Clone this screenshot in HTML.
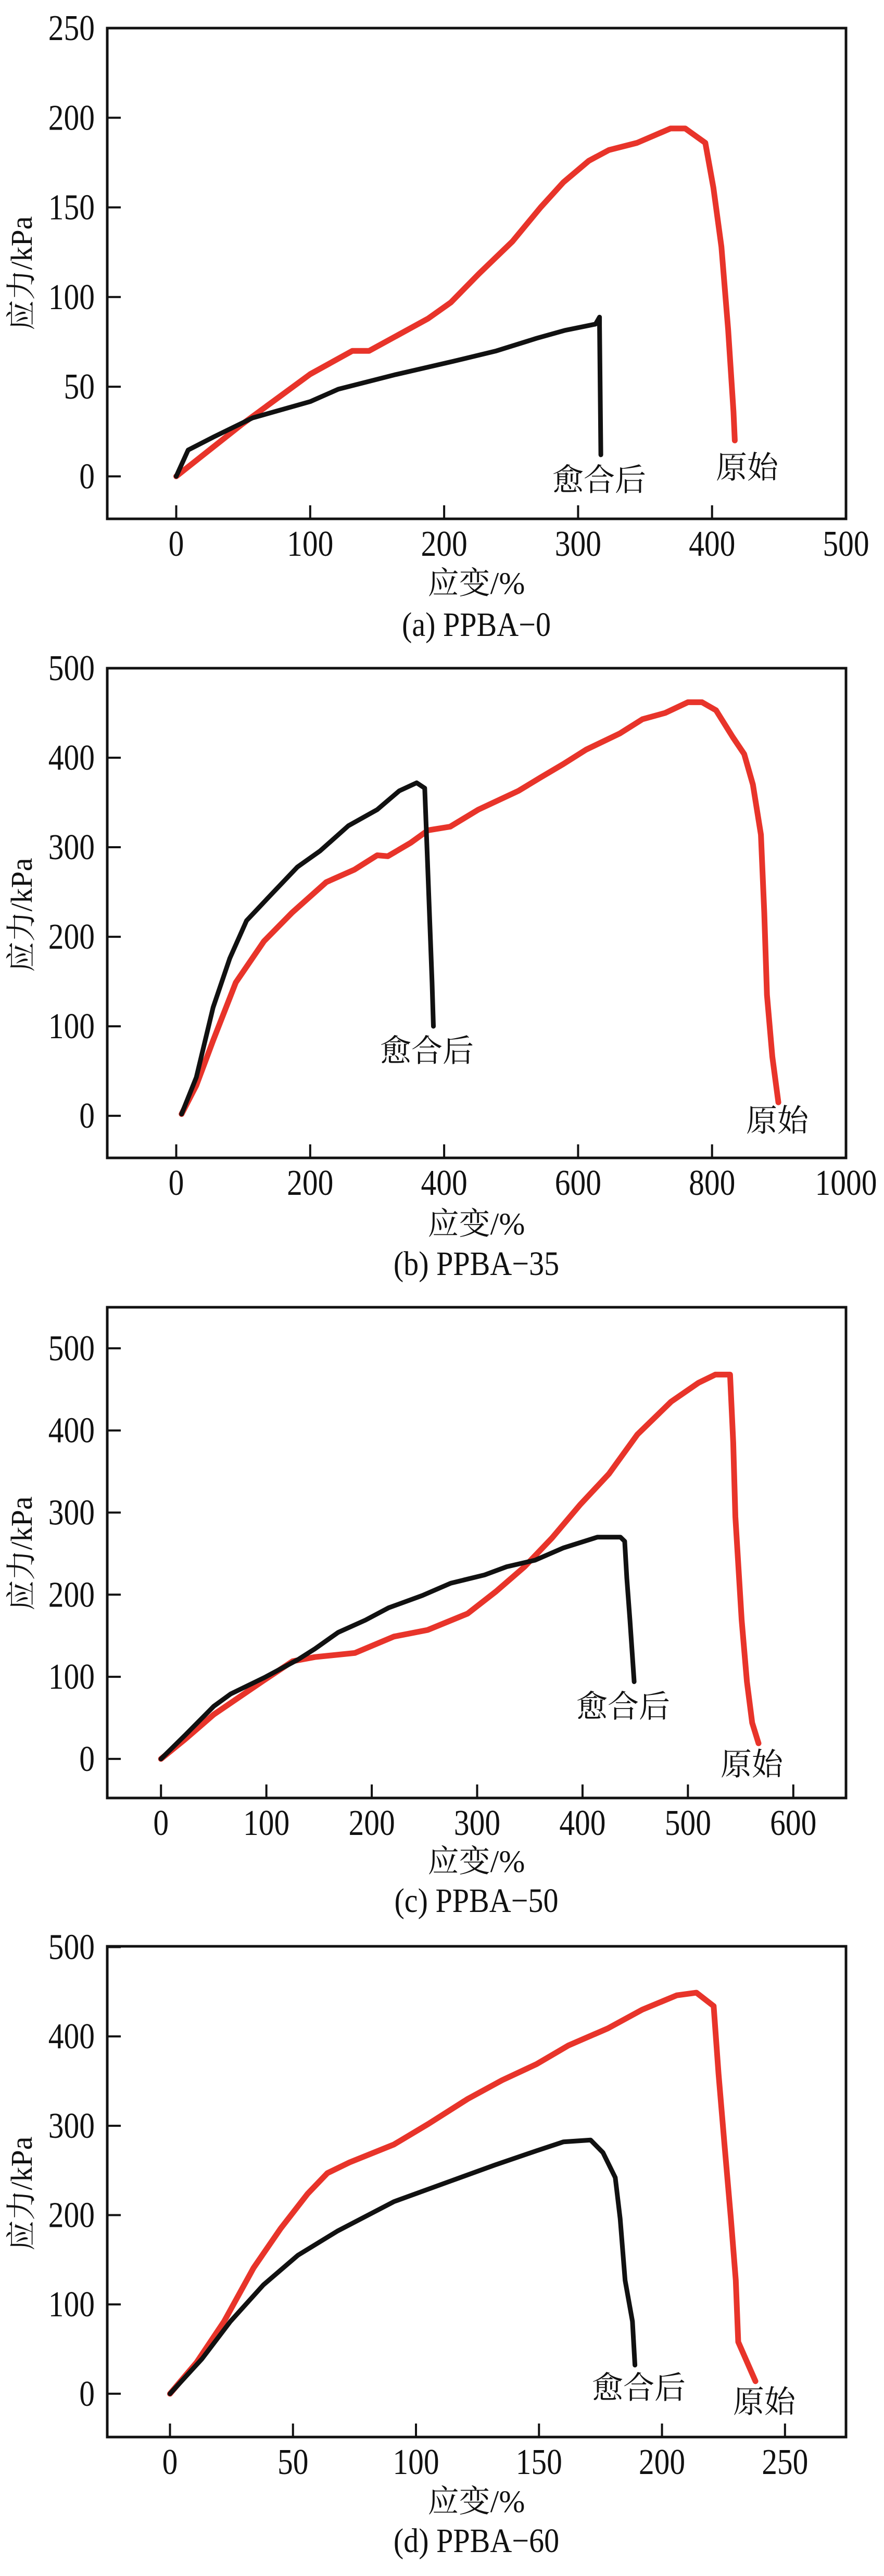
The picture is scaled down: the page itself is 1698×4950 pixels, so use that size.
<!DOCTYPE html>
<html><head><meta charset="utf-8"><style>
html,body{margin:0;padding:0;background:#fff}
svg{display:block}
</style></head><body>
<svg id="fig" width="1698" height="4950" viewBox="0 0 1698 4950" xmlns="http://www.w3.org/2000/svg"></svg>
<script>
// Panel (a) PPBA-0
const aOrigX=[0,49,100,131.5,144,188,205,226,251,272,289,308,323,344,369,380,395,401,407,412,416,417];
const aOrigY=[0,29,57,70,70,88,97,113,131,150,164,176,182,186,194,194,186,161,128,82,36,20];
const aHealX=[0,8.9,28,57,100,121,163,206,239,269,290,313,316,316,317];
const aHealY=[0,14.7,22,32.6,41.7,48.6,56.6,64,70,77,81.4,84.9,88.8,84,12];
const aXTicks=[0,100,200,300,400,500];
const aYTicks=[0,50,100,150,200,250];
// Panel (b) PPBA-35
const bOrigX=[8,30,55,89,131,173,224,266,300,316,350,376,409,451,511,544,578,612,662,696,730,764,785,806,831,848,861,873,878,882,890,899];
const bOrigY=[2,34,84,149,195,227,261,275,291,290,305,319,323,342,363,378,393,409,427,443,450,462,462,453,423,404,370,314,227,135,66,15];
const bHealX=[8,30,55,80,105,139,181,215,257,300,333,359,371,376,382,384];
const bHealY=[2,43,121,176,218,245,278,296,324,342,363,372,366,268,149,100];
const bXTicks=[0,200,400,600,800,1000];
const bYTicks=[0,100,200,300,400,500];
// Panel (c) PPBA-50
const cOrigX=[0,23,50,98,125,146,184,221,253,291,318,345,371,398,425,452,484,510,526,540,543,545,551,556,561,567];
const cOrigY=[0,24,54,96,119,124,129,149,157,177,204,234,269,310,347,395,435,458,468,468,385,295,169,94,44,19];
const cHealX=[0,23,50,66,98,130,146,168,194,216,248,275,307,328,355,382,414,436,440,442,445,449];
const cHealY=[0,29,64,79,99,121,134,154,169,184,199,214,224,234,242,257,270,270,265,220,169,94];
const cXTicks=[0,100,200,300,400,500,600];
const cYTicks=[0,100,200,300,400,500];
// Panel (d) PPBA-60
const dOrigX=[0,10.8,22,34,45,56,64,73,91,105,121,135,149,162,178,192,206,214,221,223,225.4,228,230,231,238];
const dOrigY=[0,35,81,141,185,224,247,259,279,302,330,351,369,390,409,430,446,449,434,358,279,196,127,58,14];
const dHealX=[0,13,24.6,38,52,68,91,114,132,149,160,171,176,181,183,185,188,189];
const dHealY=[0,39,81,122,155,182,215,238,256,272,282,284,270,242,196,127,81,32];
const dXTicks=[0,50,100,150,200,250];
const dYTicks=[0,100,200,300,400,500];

const NS='http://www.w3.org/2000/svg';
const svg=document.getElementById('fig');
function mk(tag,attrs,parent){const e=document.createElementNS(NS,tag);for(const k in attrs)e.setAttribute(k,attrs[k]);(parent||svg).appendChild(e);return e;}
const CJK='"Liberation Serif","Noto Serif CJK SC","Noto Sans CJK SC",serif';

const panels=[
 {id:'a',cap:'(a) PPBA\u22120',box:[206,54,1625,997],xd:[-51.5,500],yd:[-23.7,250],xt:aXTicks,yt:aYTicks,ox:aOrigX,oy:aOrigY,hx:aHealX,hy:aHealY,hl:[1151,922],ol:[1435,898],yl:525,xl:1120,cp:1199},
 {id:'b',cap:'(b) PPBA\u221235',box:[206,1284,1625,2225],xd:[-103,1000],yd:[-47,500],xt:bXTicks,yt:bYTicks,ox:bOrigX,oy:bOrigY,hx:bHealX,hy:bHealY,hl:[820,2019],ol:[1493,2153],yl:1758,xl:2351,cp:2427},
 {id:'c',cap:'(c) PPBA\u221250',box:[206,2512,1625,3455],xd:[-51,650],yd:[-47.6,550],xt:cXTicks,yt:cYTicks,ox:cOrigX,oy:cOrigY,hx:cHealX,hy:cHealY,hl:[1197,3279],ol:[1444,3390],yl:2985,xl:3576,cp:3651},
 {id:'d',cap:'(d) PPBA\u221260',box:[206,3740,1625,4683],xd:[-25.5,274.8],yd:[-48.5,500.9],xt:dXTicks,yt:dYTicks,ox:dOrigX,oy:dOrigY,hx:dHealX,hy:dHealY,hl:[1227,4588],ol:[1468,4615],yl:4215,xl:4806,cp:4881}
];

panels.forEach(p=>{
  const [L,T,R,B]=p.box;
  const sx=v=>L+(v-p.xd[0])/(p.xd[1]-p.xd[0])*(R-L);
  const sy=v=>B-(v-p.yd[0])/(p.yd[1]-p.yd[0])*(B-T);
  const g=mk('g',{});
  
  
  // ticks
  p.xt.forEach(t=>{
    const x=sx(t);
    const tk=mk('line',{x1:x,x2:x,y1:B,y2:B-26,stroke:'#111','stroke-width':4},g);
    
    
    const tx=mk('text',{x:0,y:0,'font-family':'"Liberation Serif",serif','font-size':70,'text-anchor':'middle',fill:'#111',transform:`translate(${x},${B+71}) scale(0.85,1)`},g);
    tx.textContent=t;
    
    
  });
  p.yt.forEach(t=>{
    const y=sy(t);
    const tk=mk('line',{x1:L,x2:L+26,y1:y,y2:y,stroke:'#111','stroke-width':4},g);
    
    
    const tx=mk('text',{x:0,y:0,'font-family':'"Liberation Serif",serif','font-size':70,'text-anchor':'end',fill:'#111',transform:`translate(182,${y+23}) scale(0.85,1)`},g);
    tx.textContent=t;
    
    
  });
  // clip
  const cp=mk('clipPath',{id:'clip'+p.id},g);
  mk('rect',{x:L,y:T,width:R-L,height:B-T},cp);
  // series
  const line=(xs,ys,color,w,name)=>{
    const d=xs.map((v,i)=>(i?'L':'M')+sx(v).toFixed(1)+' '+sy(ys[i]).toFixed(1)).join(' ');
    const pth=mk('path',{d:d,fill:'none',stroke:color,'stroke-width':w,'stroke-linejoin':'round','stroke-linecap':'round','clip-path':`url(#clip${p.id})`},g);
    
    
  };
  line(p.ox,p.oy,'#e8342a',11,'original-curve');
  line(p.hx,p.hy,'#111',9,'healed-curve');
  // frame
  const fr=mk('rect',{x:L,y:T,width:R-L,height:B-T,fill:'none',stroke:'#111','stroke-width':5},g);
  
  
  // annotations
  const t1=mk('text',{x:p.hl[0],y:p.hl[1]+21,'font-family':CJK,'font-size':60,'text-anchor':'middle',fill:'#111'},g);
  t1.textContent='愈合后';
  
  
  const t2=mk('text',{x:p.ol[0],y:p.ol[1]+21,'font-family':CJK,'font-size':60,'text-anchor':'middle',fill:'#111'},g);
  t2.textContent='原始';
  
  
  // axis titles
  const yt=mk('text',{x:0,y:0,'font-family':CJK,'font-size':58,'text-anchor':'middle',fill:'#111',transform:`translate(61,${p.yl}) rotate(-90)`},g);
  yt.textContent='应力/kPa';
  
  
  const xt=mk('text',{x:915,y:p.xl+21,'font-family':CJK,'font-size':60,'text-anchor':'middle',fill:'#111'},g);
  xt.textContent='应变/%';
  
  
  const c=mk('text',{x:0,y:0,'font-family':'"Liberation Serif",serif','font-size':66,'text-anchor':'middle',fill:'#111',transform:`translate(915,${p.cp+23}) scale(0.88,1)`},g);
  c.textContent=p.cap;
  
  
});
</script>
</body></html>
